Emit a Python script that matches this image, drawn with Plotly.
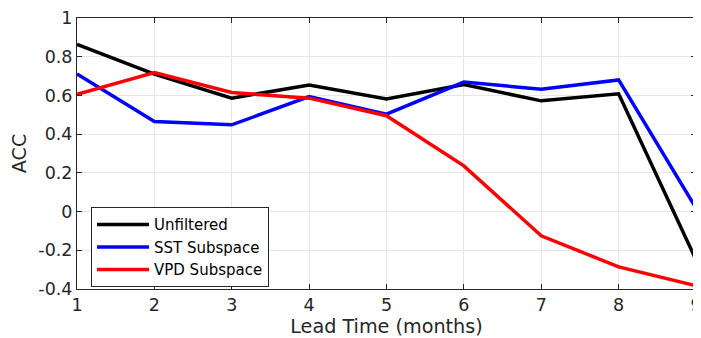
import plotly.graph_objects as go

lead = [1, 2, 3, 4, 5, 6, 7, 8, 9]
unfiltered = [0.864, 0.71, 0.586, 0.654, 0.582, 0.656, 0.572, 0.608, -0.249]
sst_sub = [0.711, 0.465, 0.448, 0.594, 0.503, 0.669, 0.632, 0.68, 0.018]
vpd_sub = [0.606, 0.718, 0.615, 0.586, 0.495, 0.236, -0.125, -0.286, -0.383]

ytick_vals = [-0.4, -0.2, 0, 0.2, 0.4, 0.6, 0.8, 1]
ytick_text = ["-0.4", "-0.2", "0", "0.2", "0.4", "0.6", "0.8", "1"]

fig = go.Figure()
for name, ys, col in [("Unfiltered", unfiltered, "#000000"),
                      ("SST Subspace", sst_sub, "#0000FF"),
                      ("VPD Subspace", vpd_sub, "#FF0000")]:
    fig.add_trace(go.Scatter(x=lead, y=ys, mode="lines", name=name,
                             line=dict(color=col, width=3.5)))

axis_common = dict(showline=True, linecolor="#262626", linewidth=1, mirror="ticks",
                   ticks="inside", ticklen=5, tickcolor="#262626", automargin=False,
                   ticklabeloverflow="allow",
                   showgrid=True, gridcolor="#E6E6E6", gridwidth=1, zeroline=False,
                   tickfont=dict(family="DejaVu Sans", size=17.5, color="#262626"))

fig.update_xaxes(range=[1, 9], tickvals=lead, ticktext=[str(v) for v in lead],
                 title=dict(text="Lead Time (months)", standoff=11,
                            font=dict(family="DejaVu Sans", size=19.2, color="#262626")),
                 **axis_common)
fig.update_yaxes(range=[-0.4, 1], tickvals=ytick_vals, ticktext=ytick_text,
                 title=dict(text="ACC", standoff=6,
                            font=dict(family="DejaVu Sans", size=19.2, color="#262626")),
                 **axis_common)

# page body has an 8px margin, so the figure is sized/offset to compensate
fig.update_layout(
    width=693, height=330,
    margin=dict(l=69, r=5, t=10, b=49),
    plot_bgcolor="white", paper_bgcolor="white",
    legend=dict(x=0.0226, y=0.154, xanchor="left", yanchor="middle",
                bgcolor="white", bordercolor="#262626", borderwidth=1,
                font=dict(family="DejaVu Sans", size=15, color="#000000"),
                itemwidth=52, tracegroupgap=0),
    showlegend=True,
)

fig.write_html("out.html")
